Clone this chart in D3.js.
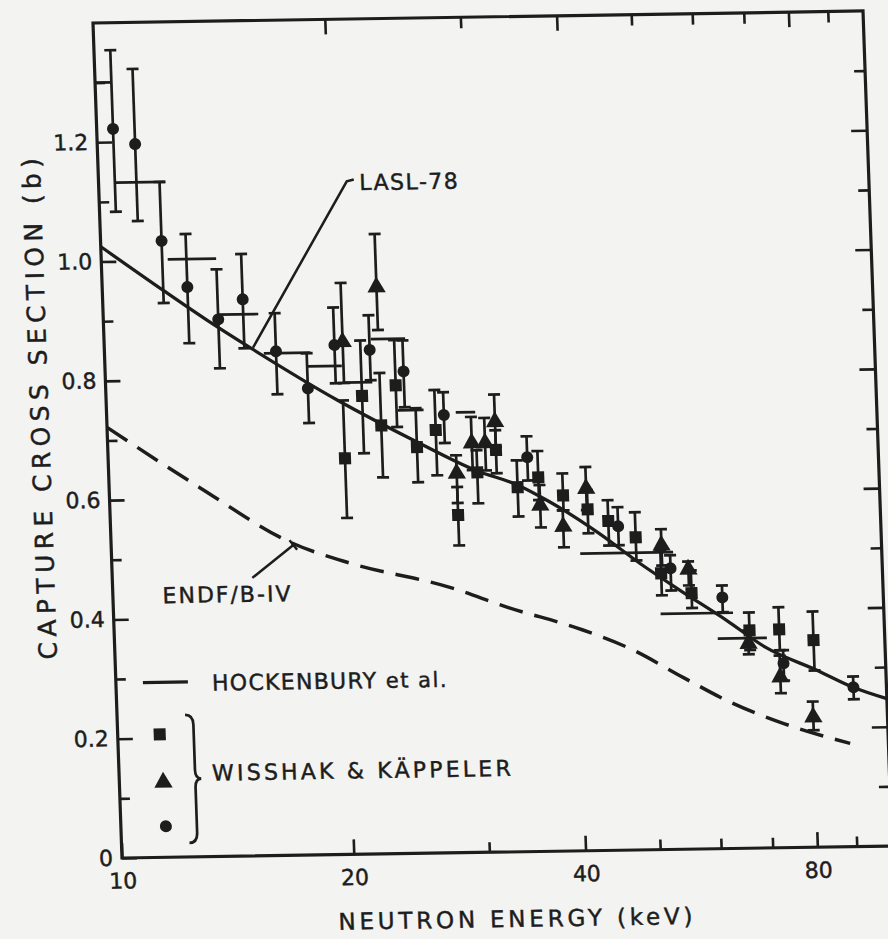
<!DOCTYPE html>
<html>
<head>
<meta charset="utf-8">
<script src="https://cdn.jsdelivr.net/npm/d3@7"></script>
<style>
  body { margin: 0; background: #f3f3f1; }
  svg { display: block; }
  text { font-family: "DejaVu Sans", sans-serif; fill: #1d1d1d; stroke: #1d1d1d; stroke-width: 0.45px; }
</style>
</head>
<body>
<script>
// Hockenbury et al. curve
const hockE = [10, 12, 13.6, 15.5, 20, 25, 30, 34, 37, 43, 48.5, 54.5, 62.5, 70, 81.5, 90.5, 100];
const hockS = [1.025, 0.95, 0.90, 0.851, 0.761, 0.692, 0.640, 0.614, 0.588, 0.532, 0.480, 0.434, 0.382, 0.336, 0.296, 0.267, 0.247];

// ENDF/B-IV evaluation (dashed)
const endfE = [10, 13.1, 17.2, 20.4, 27.4, 32.5, 40.6, 47.1, 54.5, 63.1, 73.3, 89.2];
const endfS = [0.722, 0.619, 0.523, 0.488, 0.445, 0.410, 0.370, 0.335, 0.288, 0.243, 0.208, 0.173];

// LASL-78 bins
const laslLo = [10, 10.5, 12.2, 14.1, 16.1, 18.3, 20.3, 22.2, 23.9, 28.4, 40.6, 51.3, 60.7];
const laslHi = [10.5, 12.2, 14.1, 15.9, 18.5, 20.3, 22.2, 24.6, 25.8, 30.1, 53.6, 63.7, 70.3];
const laslS  = [1.30, 1.132, 1.002, 0.908, 0.842, 0.819, 0.791, 0.863, 0.743, 0.738, 0.498, 0.395, 0.352];

// Wisshak & Kappeler, squares
const sqE  = [20.3, 21.5, 22.7, 23.8, 25.2, 26.7, 28.3, 30.1, 31.9, 33.9, 36.1, 38.8, 41.7, 44.3, 48.0, 51.6, 56.4, 66.8, 73.0, 80.8];
const sqS  = [0.664, 0.768, 0.718, 0.785, 0.681, 0.709, 0.566, 0.637, 0.674, 0.611, 0.627, 0.596, 0.572, 0.552, 0.524, 0.463, 0.429, 0.365, 0.366, 0.347];
const sqLo = [0.564, 0.672, 0.631, 0.715, 0.622, 0.633, 0.515, 0.585, 0.635, 0.562, 0.589, 0.571, 0.532, 0.511, 0.485, 0.426, 0.404, 0.332, 0.331, 0.296];
const sqHi = [0.761, 0.861, 0.806, 0.861, 0.746, 0.776, 0.613, 0.674, 0.707, 0.656, 0.671, 0.633, 0.604, 0.587, 0.566, 0.502, 0.467, 0.395, 0.403, 0.395];

// triangles
const trE  = [20.4, 22.7, 28.3, 29.7, 30.9, 31.9, 36.2, 38.7, 41.6, 51.8, 56.0, 66.5, 72.9, 80.1];
const trS  = [0.859, 0.950, 0.636, 0.686, 0.686, 0.721, 0.580, 0.544, 0.607, 0.510, 0.469, 0.343, 0.286, 0.218];
const trLo = [0.790, 0.878, 0.586, 0.641, 0.640, 0.679, 0.543, 0.509, 0.571, 0.476, 0.442, 0.325, 0.259, 0.196];
const trHi = [0.958, 1.039, 0.666, 0.730, 0.728, 0.767, 0.614, 0.571, 0.643, 0.537, 0.482, 0.365, 0.322, 0.244];

// circles
const ciE  = [10.5, 11.2, 12.0, 12.9, 14.1, 15.2, 16.7, 18.3, 19.9, 22.1, 24.4, 27.4, 35.0, 45.6, 53.1, 61.8, 73.7, 90.6];
const ciS  = [1.222, 1.196, 1.033, 0.955, 0.900, 0.933, 0.845, 0.782, 0.854, 0.845, 0.808, 0.734, 0.661, 0.543, 0.471, 0.421, 0.309, 0.267];
const ciLo = [1.083, 1.067, 0.929, 0.861, 0.818, 0.851, 0.773, 0.724, 0.790, 0.794, 0.748, 0.687, 0.622, 0.511, 0.434, 0.396, 0.280, 0.247];
const ciHi = [1.354, 1.322, 1.132, 1.044, 0.984, 1.009, 0.909, 0.841, 0.917, 0.903, 0.860, 0.772, 0.696, 0.575, 0.493, 0.441, 0.331, 0.285];

const xLabelTicks = [10, 20, 40, 80];
const xMinorTicks = [30, 50, 60, 70, 90];
const yLabelTicks = [0, 0.2, 0.4, 0.6, 0.8, 1.0, 1.2];
const yMinorTicks = [0.1, 0.3, 0.5, 0.7, 0.9, 1.1, 1.3];

const ink = "#1d1d1d";
const W = 770, H = 835;

const x = d3.scaleLog().domain([10, 100]).range([0, W]);
const y = d3.scaleLinear().domain([0, 1.4]).range([H, 0]);

const svg = d3.select("body").append("svg")
    .attr("width", 888)
    .attr("height", 939);

// the scanned figure is slightly rotated/sheared
const g = svg.append("g")
    .attr("transform", "matrix(1,-0.0156,0.0347,1,93,23)")
    .attr("color", ink);

function styleAxis(sel, size) {
  sel.select(".domain").remove();
  sel.selectAll(".tick line").attr("stroke-width", 2.6);
  sel.selectAll(".tick text").style("font-size", size + "px");
}

g.append("g").attr("transform", "translate(0," + H + ")")
  .call(d3.axisBottom(x).tickValues(xLabelTicks).tickFormat(d3.format("d")).tickSize(-15).tickPadding(15))
  .call(s => styleAxis(s, 22));
g.append("g").attr("transform", "translate(0," + H + ")")
  .call(d3.axisBottom(x).tickValues(xMinorTicks).tickFormat("").tickSize(-10))
  .call(s => styleAxis(s, 22));
g.append("g")
  .call(d3.axisTop(x).tickValues(xLabelTicks.slice(1)).tickFormat("").tickSize(-15))
  .call(s => styleAxis(s, 22));
g.append("g")
  .call(d3.axisTop(x).tickValues(xMinorTicks).tickFormat("").tickSize(-11))
  .call(s => styleAxis(s, 22));

g.append("g")
  .call(d3.axisLeft(y).tickValues(yLabelTicks).tickFormat(d => d === 0 ? "0" : d3.format(".1f")(d)).tickSize(-15).tickPadding(9))
  .call(s => styleAxis(s, 22));
g.append("g")
  .call(d3.axisLeft(y).tickValues(yMinorTicks).tickFormat("").tickSize(-10))
  .call(s => styleAxis(s, 22));
g.append("g").attr("transform", "translate(" + W + ",0)")
  .call(d3.axisRight(y).tickValues(yLabelTicks.slice(1)).tickFormat("").tickSize(-16))
  .call(s => styleAxis(s, 22));
g.append("g").attr("transform", "translate(" + W + ",0)")
  .call(d3.axisRight(y).tickValues(yMinorTicks).tickFormat("").tickSize(-11))
  .call(s => styleAxis(s, 22));

g.append("rect")
  .attr("width", W).attr("height", H)
  .attr("fill", "none").attr("stroke", ink).attr("stroke-width", 3.2);

// axis titles
g.append("text")
  .attr("x", 393).attr("y", H + 75)
  .attr("text-anchor", "middle")
  .style("font-size", "23px").style("letter-spacing", "3.8px")
  .text("NEUTRON ENERGY (keV)");

g.append("text")
  .attr("transform", "translate(-58," + 382 + ") rotate(-90)")
  .attr("text-anchor", "middle")
  .style("font-size", "25px").style("letter-spacing", "5.4px")
  .text("CAPTURE CROSS SECTION (b)");

const plot = g.append("g");

const line = d3.line().x(d => x(d[0])).y(d => y(d[1])).curve(d3.curveMonotoneX);

plot.append("path")
  .attr("d", line(d3.zip(endfE, endfS)))
  .attr("fill", "none").attr("stroke", ink)
  .attr("stroke-width", 3.5).attr("stroke-dasharray", "24,12");

plot.append("path")
  .attr("d", line(d3.zip(hockE, hockS)))
  .attr("fill", "none").attr("stroke", ink).attr("stroke-width", 3.3);

// LASL-78 bins
plot.selectAll(".lasl")
  .data(d3.range(laslS.length))
  .enter().append("line")
    .attr("x1", i => x(laslLo[i])).attr("x2", i => x(laslHi[i]))
    .attr("y1", i => y(laslS[i])).attr("y2", i => y(laslS[i]))
    .attr("stroke", ink).attr("stroke-width", 2.7);

function errorBars(E, lo, hi) {
  const eb = plot.append("g").attr("stroke", ink).attr("stroke-width", 2.7);
  E.forEach((e, i) => {
    const cx = x(e);
    eb.append("line").attr("x1", cx).attr("x2", cx).attr("y1", y(hi[i])).attr("y2", y(lo[i]));
    eb.append("line").attr("x1", cx - 6).attr("x2", cx + 6).attr("y1", y(hi[i])).attr("y2", y(hi[i]));
    eb.append("line").attr("x1", cx - 6).attr("x2", cx + 6).attr("y1", y(lo[i])).attr("y2", y(lo[i]));
  });
}
errorBars(sqE, sqLo, sqHi);
errorBars(trE, trLo, trHi);
errorBars(ciE, ciLo, ciHi);

const sq = d3.symbol().type(d3.symbolSquare).size(145);
const tri = d3.symbol().type(d3.symbolTriangle).size(145);

plot.selectAll(".sq").data(d3.zip(sqE, sqS)).enter().append("path")
  .attr("d", sq).attr("fill", ink)
  .attr("transform", d => "translate(" + x(d[0]) + "," + y(d[1]) + ")");
plot.selectAll(".tr").data(d3.zip(trE, trS)).enter().append("path")
  .attr("d", tri).attr("fill", ink)
  .attr("transform", d => "translate(" + x(d[0]) + "," + y(d[1]) + ")");
plot.selectAll(".ci").data(d3.zip(ciE, ciS)).enter().append("circle")
  .attr("r", 6).attr("fill", ink)
  .attr("cx", d => x(d[0])).attr("cy", d => y(d[1]));

// LASL-78 label and leader
const laslLeader = [[15.6, 0.852], [21.0, 1.128], [21.45, 1.131]];
plot.append("path")
  .attr("d", d3.line().x(d => x(d[0])).y(d => y(d[1]))(laslLeader))
  .attr("fill", "none").attr("stroke", ink).attr("stroke-width", 2.5);
plot.append("text")
  .attr("x", x(21.8)).attr("y", y(1.113))
  .style("font-size", "22px").style("letter-spacing", "1.5px")
  .text("LASL-78");

// ENDF/B-IV label and leader
const endfLeader = [[15.2, 0.466], [17.24, 0.520]];
const p0 = [x(endfLeader[0][0]), y(endfLeader[0][1])];
const p1 = [x(endfLeader[1][0]), y(endfLeader[1][1])];
plot.append("line")
  .attr("x1", p0[0]).attr("y1", p0[1]).attr("x2", p1[0]).attr("y2", p1[1])
  .attr("stroke", ink).attr("stroke-width", 2.5);
const dx = p1[0] - p0[0], dy = p1[1] - p0[1], len = Math.hypot(dx, dy);
const nx = -dy / len * 6, ny = dx / len * 6;
plot.append("line")
  .attr("x1", p1[0] - nx).attr("y1", p1[1] - ny).attr("x2", p1[0] + nx).attr("y2", p1[1] + ny)
  .attr("stroke", ink).attr("stroke-width", 2.5);
plot.append("text")
  .attr("x", x(11.6)).attr("y", y(0.426))
  .style("font-size", "22px").style("letter-spacing", "2px")
  .text("ENDF/B-IV");

// legend
const legend = g.append("g");
legend.append("line")
  .attr("x1", 27).attr("x2", 72).attr("y1", 660).attr("y2", 660)
  .attr("stroke", ink).attr("stroke-width", 3.3);
const hk = legend.append("text").attr("x", 96).attr("y", 669)
  .style("font-size", "22px").style("letter-spacing", "1.3px");
hk.append("tspan").text("HOCKENBURY ");
hk.append("tspan").style("font-size", "21px").style("letter-spacing", "1.5px").text("et al.");

legend.append("path").attr("d", sq).attr("fill", ink).attr("transform", "translate(42,712)");
legend.append("path").attr("d", tri).attr("fill", ink).attr("transform", "translate(44,760)");
legend.append("circle").attr("r", 6).attr("fill", ink).attr("cx", 45).attr("cy", 804);
legend.append("path")
  .attr("d", "M68,693 Q76,693 76,703 L76,748 Q76,757 82,757 Q76,757 76,766 L76,811 Q76,821 68,821")
  .attr("fill", "none").attr("stroke", ink).attr("stroke-width", 2.7);
legend.append("text").attr("x", 93).attr("y", 759)
  .style("font-size", "22px").style("letter-spacing", "3.2px")
  .text("WISSHAK & KÄPPELER");
</script>
</body>
</html>
